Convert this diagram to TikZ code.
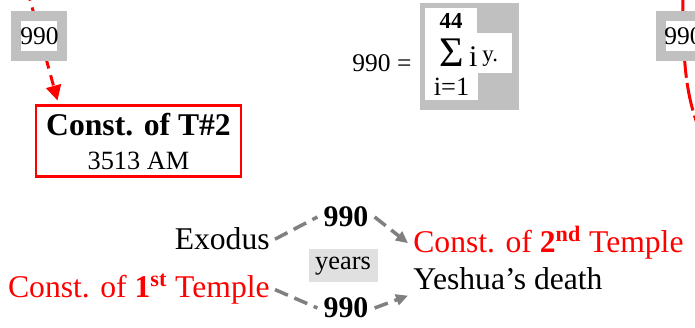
\documentclass[tikz,border=0pt]{standalone}
\usepackage{fontspec}
\setmainfont{Liberation Serif}
\usetikzlibrary{arrows.meta,positioning,calc}
\definecolor{flowred}{HTML}{FF0000}
\definecolor{framegray}{HTML}{C0C0C0}
\definecolor{dashgray}{HTML}{808080}
\definecolor{yearsgray}{HTML}{E0E0E0}
\newcommand{\bigtxt}{\fontsize{18}{21}\selectfont}
\newcommand{\midtxt}{\fontsize{14.5}{17}\selectfont}

\begin{document}
\begin{tikzpicture}[node distance=0.6cm and 0.8cm]
    \tikzstyle{numframe}=[fill=white,draw=framegray,line width=0.2cm,minimum width=0.92cm,minimum height=0.8cm,inner sep=0pt,font=\midtxt]
    \tikzstyle{redflow}=[flowred,line width=1.7pt,dash pattern=on 6pt off 4pt]
    \tikzstyle{grayflow}=[dashgray,line width=2pt,dash pattern=on 8pt off 4pt]
    \tikzstyle{sumpart}=[fill=white,inner sep=0pt]
    \tikzstyle{period}=[font=\bigtxt,inner sep=0.1cm]
    \useasboundingbox (0,0) rectangle (13.9,6.56);
    \clip (0,0) rectangle (13.9,6.56);
    % top left: 990 years down to the second temple
    \node[draw=flowred,line width=1.7pt,minimum width=4.1cm,minimum height=1.42cm,align=center,font=\fontsize{15}{19}\selectfont] (t2box) at (2.77,3.73) {{\bfseries\fontsize{18}{19}\selectfont Const. of T\#2}\\3513 AM};
    \coordinate (tlTop) at (0.55,6.75);
    \draw[redflow,-{Triangle[length=0.3cm,width=0.3cm]}] (tlTop) -- ([xshift=0.46cm,yshift=0.08cm]t2box.north west);
    \node[numframe] (tl990) at (0.79,5.84) {990};
    % top right
    \coordinate (trTop) at (13.66,6.9);
    \coordinate (trEnd) at (14.2,3.5);
    \draw[redflow,dash pattern=on 16pt off 3pt] (trTop) .. controls (13.64,5.0) and (13.75,4.4) .. (trEnd);
    \node[numframe] (tr990) at (13.67,5.84) {990};
    % sum
    \node[fill=framegray,minimum width=1.98cm,minimum height=2.14cm] (sumbox) at (9.39,5.43) {};
    \node[sumpart,minimum width=1.04cm,minimum height=0.5cm,font=\fontsize{13}{13}\selectfont\bfseries] (sumtop) at (9.02,6.15) {44};
    \node[sumpart,anchor=west,minimum width=1.74cm,minimum height=0.8cm,font=\fontsize{24}{24}\selectfont] (summid) at (8.5,5.5) {Σ\kern0.1cm\fontsize{17}{17}\selectfont i\kern0.1cm\raisebox{0.1cm}{\fontsize{13}{13}\selectfont y.}};
    \node[sumpart,minimum width=1.06cm,minimum height=0.54cm,font=\fontsize{15}{15}\selectfont] (sumbot) at (9.03,4.83) {i=1};
    \node[left=0.04cm of sumbox,yshift=-0.14cm,font=\midtxt] (eq) {990 =};
    % bottom: the two periods
    \node[period,anchor=base east] (exodus) at (5.5,1.56) {Exodus};
    \node[period,anchor=base east,text=flowred] (const1) at (5.5,0.6) {Const. of \textbf{1}\textsuperscript{\textbf{st}} Temple};
    \node[period,anchor=base west,text=flowred] (const2) at (8.16,1.5) {Const. of \textbf{2}\textsuperscript{\textbf{nd}} Temple};
    \node[period,anchor=base west] (yeshua) at (8.16,0.76) {Yeshua’s death};
    \node[font=\fontsize{17}{17}\selectfont\bfseries] (yrtop) at (6.92,2.22) {990};
    \node[font=\fontsize{17}{17}\selectfont\bfseries] (yrbot) at (6.92,0.4) {990};
    \node[fill=yearsgray,minimum width=1.38cm,minimum height=0.66cm,inner sep=0pt,font=\fontsize{15}{15}\selectfont] (years) at (6.86,1.24) {years};
    \draw[grayflow] (exodus.east) -- (yrtop.west);
    \draw[grayflow,-{Triangle[length=0.24cm,width=0.22cm]}] (yrtop.east) -- (const2.west);
    \draw[grayflow] (const1.east) -- (yrbot.west);
    \draw[grayflow,-{Triangle[length=0.24cm,width=0.22cm]}] (yrbot.east) -- (yeshua.south west);
\end{tikzpicture}
\end{document}
